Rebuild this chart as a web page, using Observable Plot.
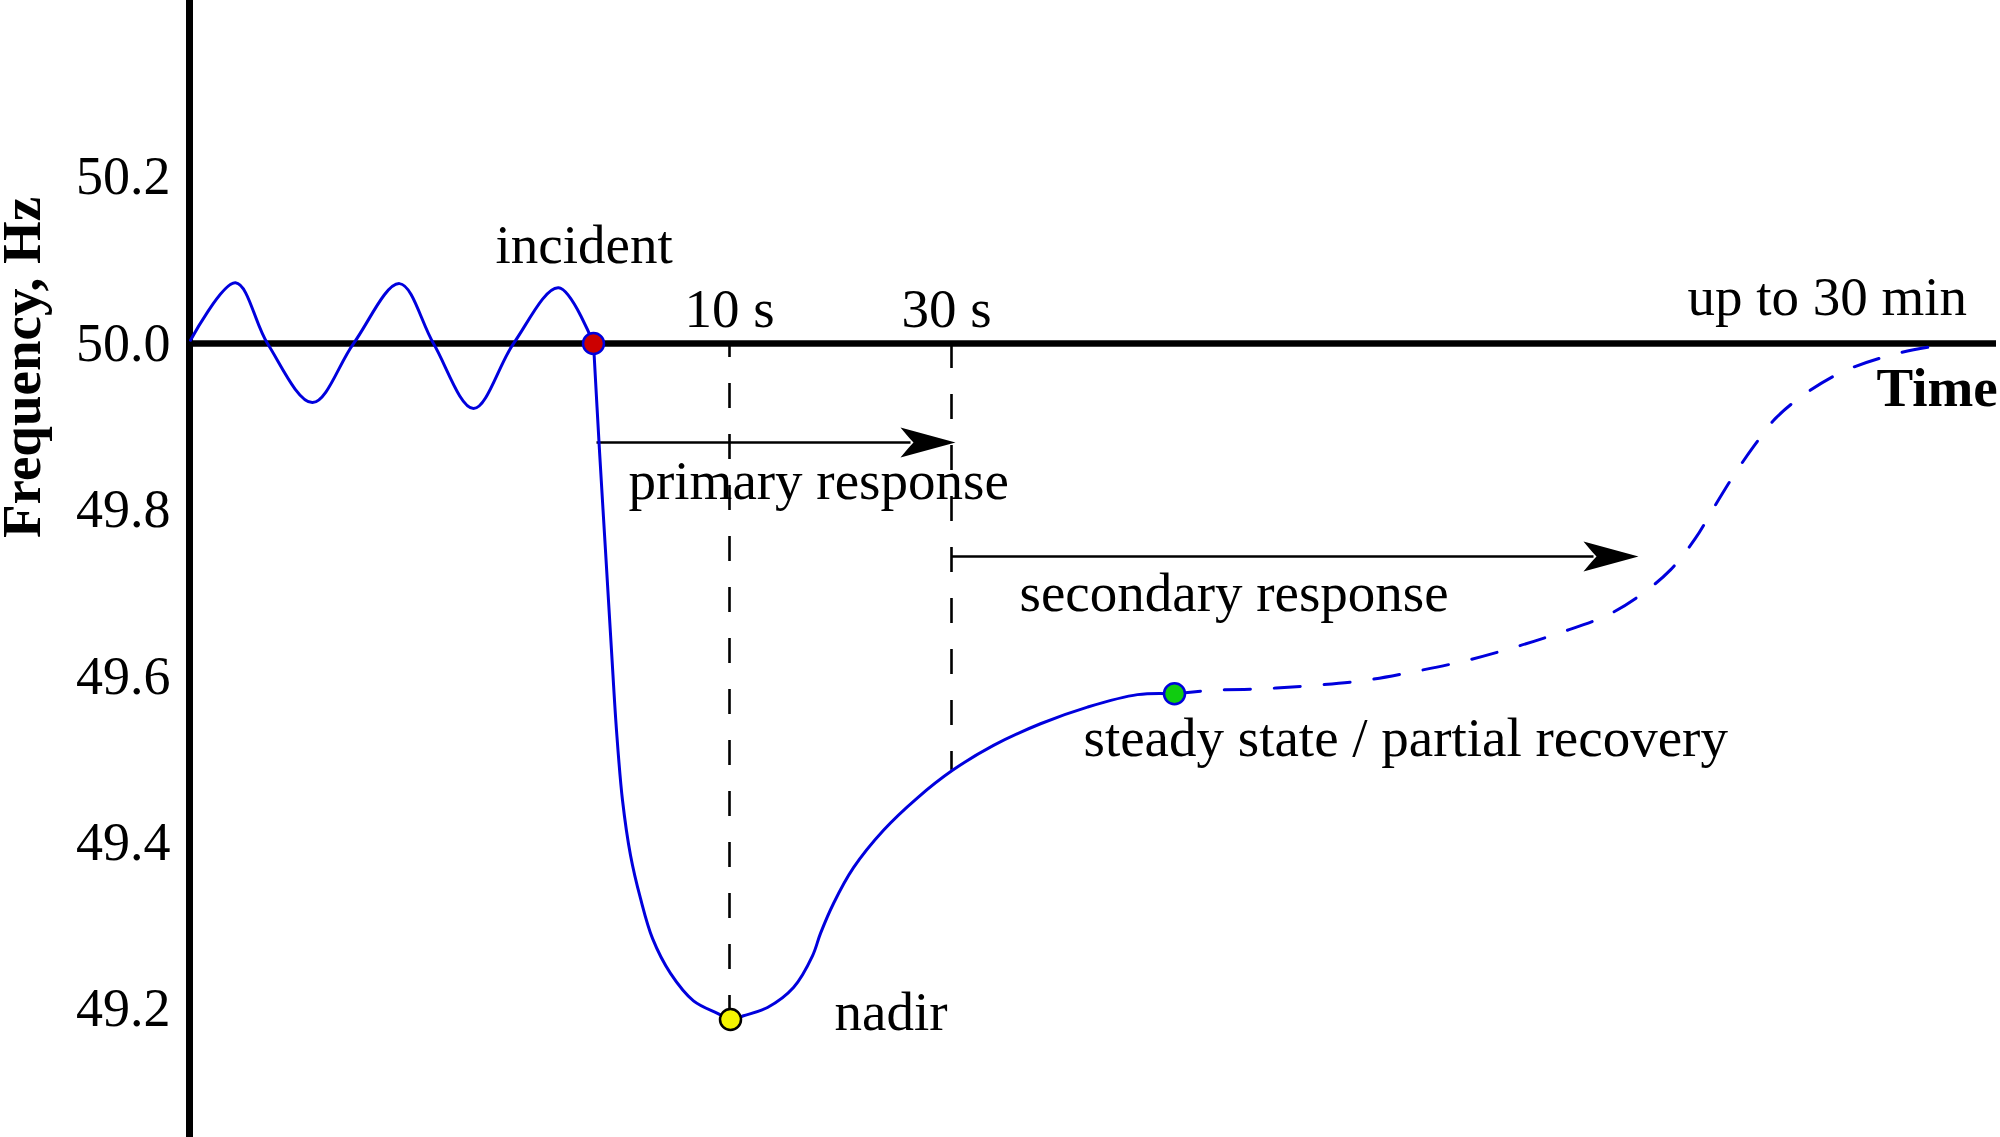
<!DOCTYPE html>
<html>
<head>
<meta charset="utf-8">
<script src="https://cdn.jsdelivr.net/npm/d3@7"></script>
<script src="https://cdn.jsdelivr.net/npm/@observablehq/plot@0.6"></script>
<style>
  html, body { margin: 0; padding: 0; background: #fff; overflow: hidden; }
</style>
</head>
<body>
<div id="chart"></div>
<script>
// ---- data (schematic time in arbitrary units, frequency in Hz) ----
const waveT = [1, 46, 78, 123, 164, 210, 244, 284, 324, 369, 404];
const waveF = [50.004, 50.073, 50.0, 49.929, 50.0, 50.072, 50.0, 49.922, 50.0, 50.067, 50.0];

const dropT = [404, 410, 416, 422, 427, 433, 441, 451, 463, 481, 504, 528, 541];
const dropF = [50.0, 49.871, 49.751, 49.631, 49.535, 49.451, 49.385, 49.333, 49.285, 49.243, 49.210, 49.195, 49.1875];

const riseT = [554, 578, 604, 623, 631, 644, 664, 694, 728, 763, 804, 851, 898, 948, 985];
const riseF = [49.192, 49.202, 49.226, 49.264, 49.291, 49.327, 49.370, 49.415, 49.454, 49.487, 49.517, 49.543, 49.563, 49.578, 49.579];

const recoveryT = [985, 1021, 1072, 1123, 1175, 1226, 1277, 1328, 1372, 1417, 1449, 1481, 1506, 1525, 1544, 1564, 1586, 1615, 1653, 1704, 1761];
const recoveryF = [49.579, 49.583, 49.585, 49.589, 49.595, 49.606, 49.619, 49.636, 49.653, 49.673, 49.696, 49.728, 49.766, 49.804, 49.841, 49.876, 49.910, 49.939, 49.966, 49.987, 50.0];

const eventNames = ["incident", "nadir", "steady state"];
const eventT = [404, 541, 985];
const eventF = [50.0, 49.1875, 49.579];
const eventFill = ["#cc0000", "#f5f500", "#10cc10"];
const eventStroke = ["#0000dd", "#000000", "#0000dd"];

const markerLabels = ["10 s", "30 s"];
const markerT = [540, 762];
const markerLabelT = [540, 757];
const markerEndF = [49.1875, 49.487];
const markerLabelF = 50.0204;

const arrowLabels = ["primary response", "secondary response"];
const arrowStartT = [407, 762];
const arrowEndT = [766, 1449];
const arrowF = [49.881, 49.744];

const labelText = ["incident", "primary response", "secondary response", "steady state / partial recovery", "nadir", "up to 30 min"];
const labelT = [306, 439, 830, 894, 645, 1498];
const labelF = [50.0962, 49.8137, 49.679, 49.5048, 49.1755, 50.0337];

const xLabel = "Time";
const xLabelT = 1687;
const xLabelF = 49.9255;

const yLabel = "Frequency, Hz";
const yLabelT = -150;
const yLabelF = 49.9712;

const yTicks = [49.2, 49.4, 49.6, 49.8, 50.0, 50.2];
const baselineF = 50.0;

// ---- build tables ----
const solid = [
  ...waveT.map((t, i) => ({seg: "wave", t, f: waveF[i]})),
  ...dropT.map((t, i) => ({seg: "response", t, f: dropF[i]})),
  ...riseT.map((t, i) => ({seg: "response", t, f: riseF[i]}))
];
const dashed = recoveryT.map((t, i) => ({t, f: recoveryF[i]}));
const events = eventNames.map((name, i) => ({name, t: eventT[i], f: eventF[i], fill: eventFill[i], stroke: eventStroke[i]}));
const markers = markerLabels.map((label, i) => ({label, t: markerT[i], lt: markerLabelT[i], f1: baselineF, f2: markerEndF[i], lf: markerLabelF}));
const arrows = arrowLabels.map((label, i) => ({label, t1: arrowStartT[i], t2: arrowEndT[i] - 45, tip: arrowEndT[i], f: arrowF[i]}));
const labels = labelText.map((text, i) => ({text, t: labelT[i], f: labelF[i]}));

// stealth-like filled arrowhead, tip at origin pointing right
const stealth = {
  draw(ctx) {
    ctx.moveTo(0, 0);
    ctx.lineTo(-55, -15);
    ctx.quadraticCurveTo(-46, -4, -42, 0);
    ctx.quadraticCurveTo(-46, 4, -55, 15);
    ctx.closePath();
  }
};

const font = "'Liberation Serif', 'Times New Roman', Times, serif";

const plot = Plot.plot({
  width: 2000,
  height: 1137,
  marginLeft: 189,
  marginRight: 4,
  marginTop: 0,
  marginBottom: 0,
  style: {fontFamily: font, background: "white", color: "black"},
  x: {domain: [0, 1807], axis: null},
  y: {domain: [49.0457, 50.4123], axis: null},
  marks: [
    Plot.axisY(yTicks, {tickSize: 0, tickPadding: 19, tickFormat: d3.format(".1f"), fontSize: 54, label: null, fill: "black"}),
    // vertical dashed markers
    Plot.ruleX([markers[0]], {x: "t", y1: "f1", y2: "f2", stroke: "black", strokeWidth: 2.6, strokeDasharray: "25,26", strokeDashoffset: 11}),
    Plot.ruleX([markers[1]], {x: "t", y1: "f1", y2: "f2", stroke: "black", strokeWidth: 2.6, strokeDasharray: "25,26", strokeDashoffset: 0}),
    // axes lines
    Plot.ruleY([baselineF], {stroke: "black", strokeWidth: 6.5}),
    Plot.ruleX([0], {stroke: "black", strokeWidth: 7}),
    // arrows
    Plot.link(arrows, {x1: "t1", x2: "t2", y1: "f", y2: "f", stroke: "black", strokeWidth: 2.6}),
    Plot.dot(arrows, {x: "tip", y: "f", symbol: stealth, r: 5, fill: "black", stroke: "none"}),
    // frequency curve
    Plot.line(solid, {x: "t", y: "f", z: "seg", stroke: "#0000dd", strokeWidth: 3, curve: "catmull-rom"}),
    Plot.line(dashed, {x: "t", y: "f", stroke: "#0000dd", strokeWidth: 3, curve: "catmull-rom", strokeDasharray: "26,24"}),
    // event dots
    ...events.map(e => Plot.dot([e], {x: "t", y: "f", r: 10.5, fill: e.fill, stroke: e.stroke, strokeWidth: 2.5})),
    // labels
    Plot.text(markers, {x: "lt", y: "lf", text: "label", textAnchor: "middle", lineAnchor: "bottom", fontSize: 55, fill: "black"}),
    Plot.text(labels, {x: "t", y: "f", text: "text", textAnchor: "start", lineAnchor: "bottom", fontSize: 55, fill: "black"}),
    Plot.text([{s: xLabel, t: xLabelT, f: xLabelF}], {x: "t", y: "f", text: "s", textAnchor: "start", lineAnchor: "bottom", fontSize: 55, fontWeight: "bold", fill: "black"}),
    Plot.text([{s: yLabel, t: yLabelT, f: yLabelF}], {x: "t", y: "f", text: "s", rotate: -90, textAnchor: "middle", lineAnchor: "bottom", fontSize: 55, fontWeight: "bold", fill: "black"})
  ]
});

document.getElementById("chart").appendChild(plot);
</script>
</body>
</html>
